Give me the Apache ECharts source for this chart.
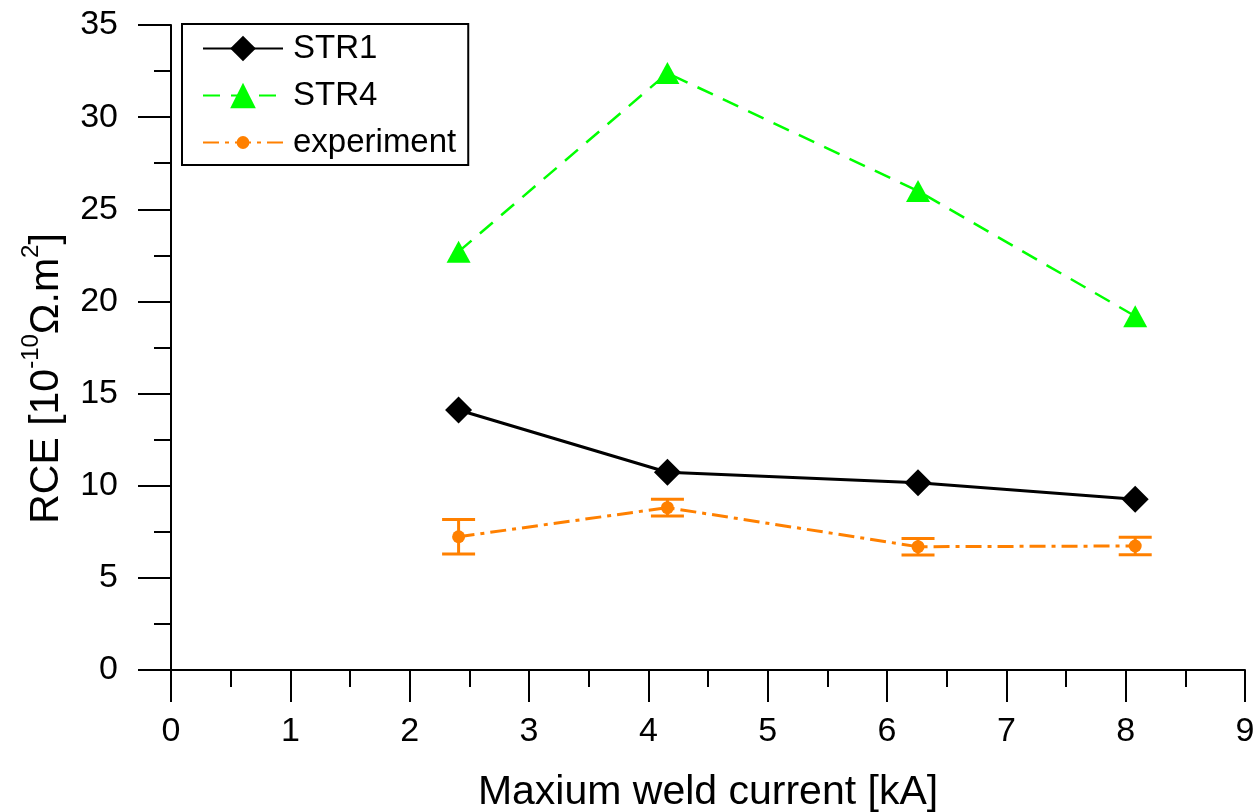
<!DOCTYPE html>
<html>
<head>
<meta charset="utf-8">
<script src="https://cdn.jsdelivr.net/npm/echarts@6/dist/echarts.min.js"></script>
<style>
  html, body { margin: 0; padding: 0; background: #ffffff; }
  #chart { width: 1254px; height: 812px; }
</style>
</head>
<body>
<div id="chart"></div>
<script>
// Maximum weld current (kA) for each weld
const currentKA = [2.41, 4.16, 6.26, 8.08];
// Contact resistance estimates, 10^-10 Ω·m²
const str1 = [14.11, 10.73, 10.16, 9.26];
const str4 = [22.70, 32.39, 25.99, 19.20];
const experiment = [7.23, 8.81, 6.69, 6.73];
const experimentErr = [0.94, 0.46, 0.45, 0.47];
const seriesNames = ['STR1', 'STR4', 'experiment'];

const FONT = 'Liberation Sans, Arial, sans-serif';
const BLACK = '#000000';
const GREEN = '#00ff00';
const ORANGE = '#ff8000';

const pairs = ys => currentKA.map((x, i) => [x, ys[i]]);
const errRows = currentKA.map((x, i) => [x, experiment[i] - experimentErr[i], experiment[i] + experimentErr[i]]);

// dot with empty margin so it stays small inside the legend icon box
const DOT = 'path://M0 0M26 26M19.5 13A6.5 6.5 0 1 1 6.5 13A6.5 6.5 0 1 1 19.5 13Z';

const chart = echarts.init(document.getElementById('chart'), null, { renderer: 'canvas' });

chart.setOption({
  animation: false,
  backgroundColor: '#ffffff',
  textStyle: { fontFamily: FONT, color: BLACK },
  grid: { left: 171, right: 9, top: 25, bottom: 142, containLabel: false, outerBoundsMode: 'none' },
  legend: {
    data: seriesNames,
    orient: 'vertical',
    left: 182,
    top: 24,
    padding: [8, 12, 6, 20],
    itemWidth: 80,
    itemHeight: 32,
    itemGap: 14,
    backgroundColor: '#ffffff',
    borderColor: BLACK,
    borderWidth: 2,
    borderRadius: 0,
    textStyle: { fontFamily: FONT, fontSize: 33, color: BLACK, padding: [0, 0, 0, 5] }
  },
  xAxis: {
    type: 'value',
    min: 0, max: 9, interval: 1,
    name: 'Maxium weld current [kA]',
    nameLocation: 'middle',
    nameGap: 102,
    nameTextStyle: { fontFamily: FONT, fontSize: 41, color: BLACK },
    axisLine: { show: true, onZero: false, lineStyle: { color: BLACK, width: 2 } },
    axisTick: { show: true, inside: false, length: 32, lineStyle: { color: BLACK, width: 2 } },
    minorTick: { show: true, splitNumber: 2, length: 17, lineStyle: { color: BLACK, width: 2 } },
    axisLabel: { fontFamily: FONT, fontSize: 34, color: BLACK, margin: 45 },
    splitLine: { show: false }
  },
  yAxis: {
    type: 'value',
    min: 0, max: 35, interval: 5,
    name: '{n|RCE [10}{s|-10}{n|Ω.m}{s|2}{n|]}',
    nameLocation: 'middle',
    nameRotate: 90,
    nameGap: 104,
    nameTextStyle: {
      padding: [0, 62, 0, 0],
      rich: {
        n: { fontFamily: FONT, fontSize: 41, color: BLACK, lineHeight: 48, verticalAlign: 'bottom' },
        s: { fontFamily: FONT, fontSize: 24, color: BLACK, lineHeight: 48, verticalAlign: 'top' }
      }
    },
    axisLine: { show: true, onZero: false, lineStyle: { color: BLACK, width: 2 } },
    axisTick: { show: true, inside: false, length: 33, lineStyle: { color: BLACK, width: 2 } },
    minorTick: { show: true, splitNumber: 2, length: 17, lineStyle: { color: BLACK, width: 2 } },
    axisLabel: { fontFamily: FONT, fontSize: 34, color: BLACK, margin: 53 },
    splitLine: { show: false }
  },
  series: [
    {
      name: 'STR1',
      type: 'line',
      data: pairs(str1),
      symbol: 'diamond',
      symbolSize: 27,
      lineStyle: { color: BLACK, width: 3, type: 'solid' },
      itemStyle: { color: BLACK },
      z: 4
    },
    {
      name: 'STR4',
      type: 'line',
      data: pairs(str4),
      symbol: 'triangle',
      symbolSize: [24, 22],
      lineStyle: { color: GREEN, width: 2.5, type: [17, 11] },
      itemStyle: { color: GREEN },
      z: 3
    },
    {
      name: 'experiment error',
      type: 'custom',
      data: errRows,
      encode: { x: 0, y: [1, 2] },
      z: 2,
      silent: true,
      renderItem: (params, api) => {
        const x = api.value(0);
        const lo = api.coord([x, api.value(1)]);
        const hi = api.coord([x, api.value(2)]);
        const half = 16.5;
        const style = { stroke: ORANGE, lineWidth: 3, fill: null };
        return {
          type: 'group',
          children: [
            { type: 'line', shape: { x1: lo[0], y1: lo[1], x2: hi[0], y2: hi[1] }, style },
            { type: 'line', shape: { x1: lo[0] - half, y1: lo[1], x2: lo[0] + half, y2: lo[1] }, style },
            { type: 'line', shape: { x1: hi[0] - half, y1: hi[1], x2: hi[0] + half, y2: hi[1] }, style }
          ]
        };
      }
    },
    {
      name: 'experiment',
      type: 'line',
      data: pairs(experiment),
      symbol: DOT,
      symbolSize: 26,
      lineStyle: { color: ORANGE, width: 3, type: [16, 6, 4, 6] },
      itemStyle: { color: ORANGE },
      z: 3
    }
  ]
});
</script>
</body>
</html>
